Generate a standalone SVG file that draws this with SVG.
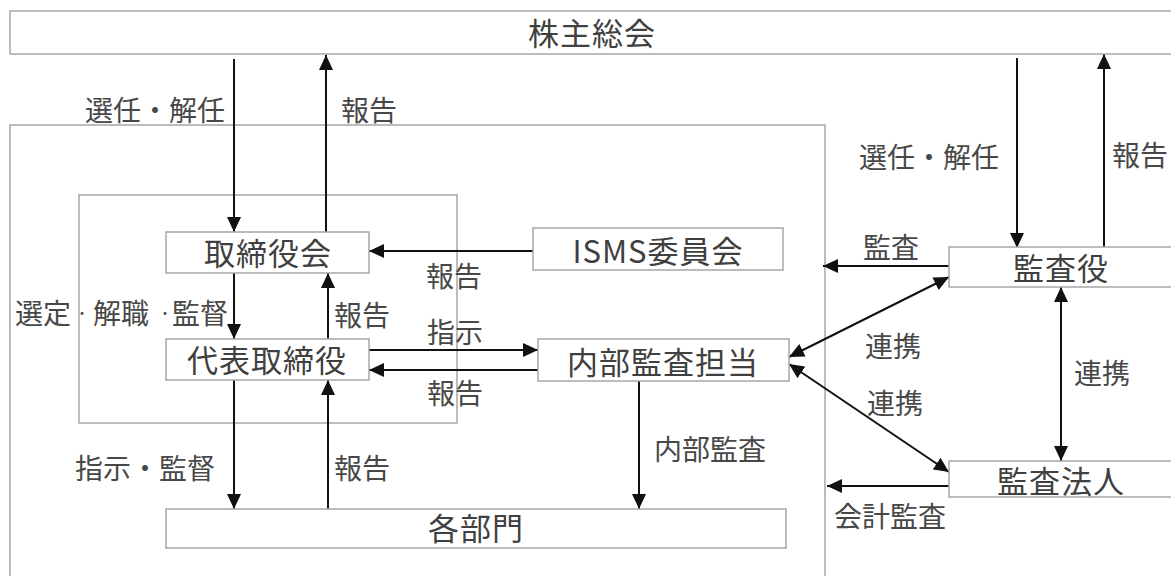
<svg xmlns="http://www.w3.org/2000/svg" width="1171" height="576" viewBox="0 0 1171 576">
<style>
.box{fill:#fff;stroke:#a6a6a6;stroke-width:1.5}
.frame{fill:none;stroke:#a6a6a6;stroke-width:1.5}
.nt{font-family:"Noto Sans CJK JP","Noto Sans",sans-serif;font-size:31px;fill:#404040;text-anchor:middle;dominant-baseline:central;letter-spacing:1px}
.lt{font-family:"Noto Sans CJK JP","Noto Sans",sans-serif;font-size:28px;fill:#484848;text-anchor:middle;dominant-baseline:central}
.c{fill:none;stroke:#111;stroke-width:2;marker-end:url(#ah)}
.b{marker-start:url(#ah)}
</style>
<defs>
<marker id="ah" markerUnits="userSpaceOnUse" markerWidth="15" markerHeight="14" refX="15" refY="7" orient="auto-start-reverse" viewBox="0 0 15 14">
<path d="M0,0 L15,7 L0,14 z" fill="#111"/>
</marker>
</defs>

<g id="frames">
<rect class="frame" x="10" y="125" width="815" height="470"/>
<rect class="frame" x="79" y="195" width="378" height="228"/>
</g>

<g id="connectors">
<path class="c" d="M234,59 V232"/>
<path class="c" d="M326,232 V55"/>
<path class="c" d="M234,273 V339"/>
<path class="c" d="M328,339 V273"/>
<path class="c" d="M533,251 H369"/>
<path class="c" d="M369,350 H538"/>
<path class="c" d="M538,370 H369"/>
<path class="c" d="M234,380 V509"/>
<path class="c" d="M328,509 V380"/>
<path class="c" d="M639,381 V509"/>
<path class="c" d="M1017,58 V248"/>
<path class="c" d="M1104,248 V54"/>
<path class="c" d="M949,266 H823"/>
<path class="c b" d="M789,357 L949,277"/>
<path class="c b" d="M789,364 L949,472"/>
<path class="c b" d="M1061,287 V461"/>
<path class="c" d="M949,486 H827"/>
</g>

<g id="labels">
<text class="lt" x="155" y="109">選任・解任</text>
<text class="lt" x="369" y="109">報告</text>
<text class="lt" style="text-anchor:start" y="312"><tspan x="15">選定</tspan><tspan x="75" style="font-size:14px">・</tspan><tspan x="93">解職</tspan><tspan x="158" style="font-size:14px">・</tspan><tspan x="172">監督</tspan></text>
<text class="lt" x="362" y="314">報告</text>
<text class="lt" x="454" y="275">報告</text>
<text class="lt" x="455" y="331">指示</text>
<text class="lt" x="455" y="392">報告</text>
<text class="lt" x="145" y="467">指示・監督</text>
<text class="lt" x="362" y="467">報告</text>
<text class="lt" x="710" y="448">内部監査</text>
<text class="lt" x="929" y="156">選任・解任</text>
<text class="lt" x="1140" y="154">報告</text>
<text class="lt" x="891" y="246">監査</text>
<text class="lt" x="893" y="345">連携</text>
<text class="lt" x="895" y="402">連携</text>
<text class="lt" x="1102" y="372">連携</text>
<text class="lt" x="890" y="515">会計監査</text>
</g>

<g id="node-kabunushi">
<rect class="box" x="10" y="11" width="1175" height="43"/>
<text class="nt" x="592" y="31.5">株主総会</text>
</g>
<g id="node-torishimariyakukai">
<rect class="box" x="166" y="232" width="203" height="41"/>
<text class="nt" x="268" y="251.5">取締役会</text>
</g>
<g id="node-daihyo">
<rect class="box" x="166" y="339" width="203" height="41"/>
<text class="nt" x="267" y="358.5">代表取締役</text>
</g>
<g id="node-kakubumon">
<rect class="box" x="166" y="509" width="620" height="39"/>
<text class="nt" x="476" y="526">各部門</text>
</g>
<g id="node-isms">
<rect class="box" x="533" y="228" width="250" height="42"/>
<text class="nt" x="658" y="249.5">ISMS委員会</text>
</g>
<g id="node-naibukansa">
<rect class="box" x="538" y="339" width="251" height="42"/>
<text class="nt" x="663" y="360">内部監査担当</text>
</g>
<g id="node-kansayaku">
<rect class="box" x="949" y="247" width="240" height="40"/>
<text class="nt" x="1061" y="266.5">監査役</text>
</g>
<g id="node-kansahojin">
<rect class="box" x="949" y="461" width="240" height="36"/>
<text class="nt" x="1061" y="479">監査法人</text>
</g>
</svg>
